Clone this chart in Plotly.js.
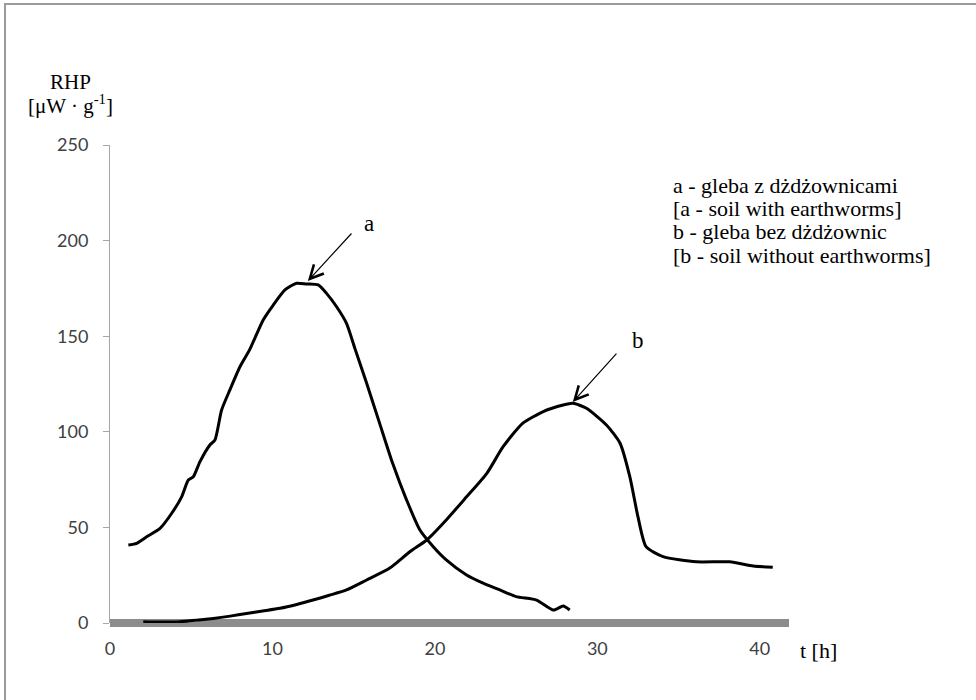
<!DOCTYPE html>
<html>
<head>
<meta charset="utf-8">
<script src="https://cdn.plot.ly/plotly-3.0.1.min.js"></script>
<style>html,body{margin:0;padding:0;background:#fff;}#chart{width:976px;height:700px;}</style>
</head>
<body>
<div id="chart"></div>
<script>
// Series a: soil with earthworms
const tA = [1.13,1.64,2.26,3.08,3.8,4.41,4.82,5.13,5.54,6.15,6.46,6.87,7.38,8.0,8.6,9.43,10.05,10.77,11.49,12.1,12.82,13.33,13.95,14.56,15.08,15.8,16.6,17.4,18.26,19.08,19.9,20.7,21.95,22.97,24.0,25.0,26.26,27.3,27.9,28.3];
const vA = [40.8,41.7,45.1,49.5,57.4,66,74.8,76.5,84.4,93.1,95.7,111.4,121.9,134,143,158.5,166.3,174.2,177.7,177.3,176.8,172.4,165.4,156.7,143.5,125.4,104.4,83.5,64.3,48.6,39.9,33,25.1,20.8,17.3,13.8,12,6.8,8.9,6.8];
// Series b: soil without earthworms
const tB = [2.05,3.0,4.3,5.3,6.36,7.4,8.4,9.4,10.46,11.5,12.5,13.5,14.56,15.8,17.2,18.46,19.5,20.7,21.95,23.2,24.2,25.4,26.67,27.9,28.5,29.33,30.56,31.4,32.0,32.5,33.0,34.05,36.1,38.15,39.6,40.8];
const vB = [0.7,0.5,0.7,1.5,2.4,3.6,5,6.3,7.7,9.7,12,14.5,17.3,22.5,28.6,37.3,43.4,53.9,66,78.3,92.2,104.4,110.6,114,114.9,112.3,103.6,94,76.5,55.6,39.9,34.7,32,32,29.8,29.1];
const xTicks = [0,10,20,30,40];
const yTicks = [0,50,100,150,200,250];
const legendLines = ["a - gleba z dżdżownicami","[a - soil with earthworms]","b - gleba bez dżdżownic","[b - soil without earthworms]"];
const yTitleLines = ["RHP","[μW · g<sup>-1</sup>]"];
// arrows: head and tail in data units, label position
const arrowA = {label:"a", head:[12.18,178.9], tail:[14.95,204.5], text:[15.94,208.7]};
const arrowB = {label:"b", head:[28.49,115.6], tail:[31.26,141.7], text:[32.49,147.5]};

const serif = "Liberation Serif, Times New Roman, serif";
const sans = "Lato, Carlito, Calibri, sans-serif";

const traces = [
  {x:tA, y:vA, mode:"lines", line:{color:"#000", width:3, shape:"spline", smoothing:0.6}, hoverinfo:"skip"},
  {x:tB, y:vB, mode:"lines", line:{color:"#000", width:3, shape:"spline", smoothing:0.6}, hoverinfo:"skip"}
];

function arrowAnn(a){
  return [
    {x:a.head[0], y:a.head[1], ax:a.tail[0], ay:a.tail[1], xref:"x", yref:"y", axref:"x", ayref:"y",
     text:"", showarrow:true, arrowhead:5, arrowsize:2.2, arrowwidth:1.2, arrowcolor:"#000"},
    {x:a.text[0], y:a.text[1], xref:"x", yref:"y", text:a.label, showarrow:false,
     font:{family:serif, size:23, color:"#000"}}
  ];
}

const legendY = [0.9163, 0.8672, 0.8180, 0.7688];
const legendAnns = legendLines.map((s,i)=>({xref:"paper", yref:"paper", x:0.826, y:legendY[i], xanchor:"left", yanchor:"middle",
  showarrow:false, text:s, font:{family:serif, size:22, color:"#000"}}));
const yTitleY = [1.1318, 1.0837];
const yTitleAnns = yTitleLines.map((s,i)=>({xref:"paper", yref:"paper", x:-0.0589, y:yTitleY[i], xanchor:"center", yanchor:"middle",
  showarrow:false, text:s, font:{family:serif, size:21, color:"#000"}}));

const layout = {
  width:976, height:700,
  margin:{l:110, r:187, t:145, b:77},
  paper_bgcolor:"#fff", plot_bgcolor:"#fff",
  showlegend:false,
  xaxis:{range:[0,41.8], tickvals:xTicks, ticktext:xTicks.map(String), showgrid:false, zeroline:false,
         showline:false, ticks:"", ticklabelstandoff:13, tickfont:{family:sans, size:18, color:"#404040"}},
  yaxis:{range:[0,250], tickvals:yTicks, ticktext:yTicks.map(String), showgrid:false, zeroline:false,
         showline:true, linecolor:"#a6a6a6", linewidth:1, ticks:"outside", ticklen:6, tickcolor:"#a6a6a6",
         ticklabelstandoff:11, tickfont:{family:sans, size:18, color:"#404040"}},
  shapes:[
    {type:"line", xref:"paper", yref:"paper", x0:0, x1:1, y0:0, y1:0, line:{color:"#8c8c8c", width:8}, layer:"below"},
    {type:"rect", xref:"paper", yref:"paper", x0:-0.1546, x1:1.35, y0:-0.25, y1:1.295, line:{color:"#9a9a9a", width:2}, layer:"below"}
  ],
  annotations:[
    ...arrowAnn(arrowA), ...arrowAnn(arrowB), ...legendAnns, ...yTitleAnns,
    {xref:"paper", yref:"paper", x:1.044, y:-0.0565, xanchor:"center", yanchor:"middle", showarrow:false,
     text:"t [h]", font:{family:serif, size:22, color:"#000"}}
  ]
};

Plotly.newPlot("chart", traces, layout, {displayModeBar:false, staticPlot:true});
</script>
</body>
</html>
